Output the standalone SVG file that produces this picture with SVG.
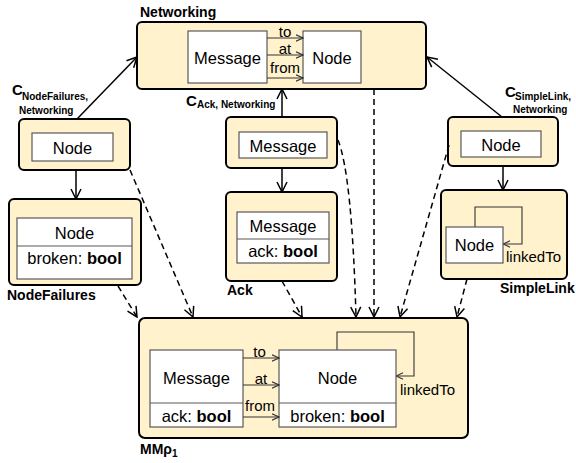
<svg xmlns="http://www.w3.org/2000/svg" width="576" height="463" viewBox="0 0 576 463">
  <style>
    text { font-family: "Liberation Sans", Arial, sans-serif; fill: #000; }
    .pkg { fill: #FFF2CC; stroke: #000; stroke-width: 2; }
    .cls { fill: #fff; stroke: #595959; stroke-width: 1.2; }
    .div { stroke: #595959; stroke-width: 1.2; }
    .name { font-size: 16.5px; text-anchor: middle; }
    .attr { font-size: 16.5px; }
    .role { font-size: 15px; }
    .title { font-size: 14px; font-weight: bold; }
    .cc { font-size: 15px; font-weight: bold; }
    .sub { font-size: 10px; font-weight: bold; }
    .ref { fill: none; stroke: #333; stroke-width: 1.1; }
    .map { fill: none; stroke: #000; stroke-width: 1.5; }
    .dash { fill: none; stroke: #000; stroke-width: 1.5; stroke-dasharray: 6 4; }
  </style>
  <defs>
    <marker id="open" viewBox="0 0 12 12" refX="11" refY="6" markerWidth="12" markerHeight="12" orient="auto" markerUnits="userSpaceOnUse">
      <path d="M1,1 L11,6 L1,11" fill="none" stroke="#000" stroke-width="1.5" stroke-dasharray="none"/>
    </marker>
    <marker id="small" viewBox="0 0 8 8" refX="7.5" refY="4" markerWidth="8" markerHeight="8" orient="auto" markerUnits="userSpaceOnUse">
      <path d="M0.5,0.8 L7.5,4 L0.5,7.2" fill="none" stroke="#333" stroke-width="1.1"/>
    </marker>
  </defs>

  <!-- Networking -->
  <g id="networking">
    <text class="title" x="140" y="17">Networking</text>
    <rect class="pkg" x="137" y="22" width="289" height="67" rx="5"/>
    <rect class="cls" x="188" y="31" width="79" height="52"/>
    <text class="name" x="227.5" y="64">Message</text>
    <rect class="cls" x="303" y="31" width="58" height="52"/>
    <text class="name" x="332" y="64">Node</text>
    <path class="ref" d="M267,38 H303" marker-end="url(#small)"/>
    <path class="ref" d="M267,55 H303" marker-end="url(#small)"/>
    <path class="ref" d="M267,78 H303" marker-end="url(#small)"/>
    <text class="role" x="285" y="37" text-anchor="middle">to</text>
    <text class="role" x="285" y="54" text-anchor="middle">at</text>
    <text class="role" x="285" y="73" text-anchor="middle">from</text>
  </g>

  <!-- correspondence NodeFailures / Networking -->
  <g id="c-nodefailures">
    <rect class="pkg" x="19" y="119" width="111" height="51" rx="5"/>
    <rect class="cls" x="32" y="133" width="81" height="28"/>
    <text class="name" x="72.5" y="154">Node</text>
    <text class="cc" x="12" y="95">C</text>
    <text class="sub" x="22" y="100">NodeFailures,</text>
    <text class="sub" x="19" y="114">Networking</text>
  </g>

  <!-- NodeFailures -->
  <g id="nodefailures">
    <rect class="pkg" x="9" y="199" width="132" height="86" rx="5"/>
    <rect class="cls" x="17" y="218" width="115" height="61"/>
    <line class="div" x1="17" y1="246" x2="132" y2="246"/>
    <text class="name" x="74.5" y="239">Node</text>
    <text class="attr" x="74.5" y="264" text-anchor="middle">broken: <tspan font-weight="bold">bool</tspan></text>
    <text class="title" x="7" y="300">NodeFailures</text>
  </g>

  <!-- correspondence Ack / Networking -->
  <g id="c-ack">
    <rect class="pkg" x="226" y="117" width="111" height="51" rx="5"/>
    <rect class="cls" x="239" y="132" width="88" height="26"/>
    <text class="name" x="283" y="152">Message</text>
    <text class="cc" x="186" y="106">C</text>
    <text class="sub" x="197" y="108">Ack, Networking</text>
  </g>

  <!-- Ack -->
  <g id="ack">
    <rect class="pkg" x="226" y="192" width="111" height="89" rx="5"/>
    <rect class="cls" x="237" y="212" width="92" height="51"/>
    <line class="div" x1="237" y1="239" x2="329" y2="239"/>
    <text class="name" x="283" y="232">Message</text>
    <text class="attr" x="283" y="257" text-anchor="middle">ack: <tspan font-weight="bold">bool</tspan></text>
    <text class="title" x="227" y="295">Ack</text>
  </g>

  <!-- correspondence SimpleLink / Networking -->
  <g id="c-simplelink">
    <rect class="pkg" x="448" y="117" width="110" height="49" rx="5"/>
    <rect class="cls" x="461" y="131" width="80" height="26"/>
    <text class="name" x="501" y="151">Node</text>
    <text class="cc" x="505" y="97">C</text>
    <text class="sub" x="515" y="100">SimpleLink,</text>
    <text class="sub" x="513" y="113">Networking</text>
  </g>

  <!-- SimpleLink -->
  <g id="simplelink">
    <rect class="pkg" x="441" y="190" width="126" height="89" rx="5"/>
    <path class="ref" d="M475,227 V207 H522 V244 H503" marker-end="url(#small)"/>
    <rect class="cls" x="446" y="227" width="57" height="36"/>
    <text class="name" x="474.5" y="251">Node</text>
    <text class="role" x="506" y="262">linkedTo</text>
    <text class="title" x="500" y="293">SimpleLink</text>
  </g>

  <!-- merged metamodel -->
  <g id="mm">
    <rect class="pkg" x="139" y="318" width="329" height="120" rx="6"/>
    <path class="ref" d="M337,350 V332 H414 V376 H396" marker-end="url(#small)"/>
    <rect class="cls" x="150" y="350" width="93" height="77"/>
    <line class="div" x1="150" y1="403" x2="243" y2="403"/>
    <text class="name" x="196.5" y="384">Message</text>
    <text class="attr" x="196.5" y="422" text-anchor="middle">ack: <tspan font-weight="bold">bool</tspan></text>
    <rect class="cls" x="279" y="350" width="117" height="77"/>
    <line class="div" x1="279" y1="403" x2="396" y2="403"/>
    <text class="name" x="337.5" y="384">Node</text>
    <text class="attr" x="337.5" y="422" text-anchor="middle">broken: <tspan font-weight="bold">bool</tspan></text>
    <path class="ref" d="M243,358 H279" marker-end="url(#small)"/>
    <path class="ref" d="M243,385 H279" marker-end="url(#small)"/>
    <path class="ref" d="M243,417 H279" marker-end="url(#small)"/>
    <text class="role" x="259.5" y="357" text-anchor="middle">to</text>
    <text class="role" x="261" y="384" text-anchor="middle">at</text>
    <text class="role" x="260" y="411" text-anchor="middle">from</text>
    <text class="role" x="400" y="395">linkedTo</text>
    <text class="title" x="140" y="454">MMρ<tspan font-size="10px" dy="3">1</tspan></text>
  </g>

  <!-- mappings between packages -->
  <g id="connectors">
    <path class="map" d="M77,119 L137,57" marker-end="url(#open)"/>
    <path class="map" d="M282,117 V89" marker-end="url(#open)"/>
    <path class="map" d="M502,117 L427,57" marker-end="url(#open)"/>
    <path class="map" d="M76,170 V199" marker-end="url(#open)"/>
    <path class="map" d="M282,168 V192" marker-end="url(#open)"/>
    <path class="map" d="M503,166 V190" marker-end="url(#open)"/>

    <path class="dash" d="M130,170 L193,317" marker-end="url(#open)"/>
    <path class="dash" d="M118,286 L137,317" marker-end="url(#open)"/>
    <path class="dash" d="M282,281 L302,317" marker-end="url(#open)"/>
    <path class="dash" d="M338,140 Q352,175 356,317" marker-end="url(#open)"/>
    <path class="dash" d="M374,89 V317" marker-end="url(#open)"/>
    <path class="dash" d="M449,145 L400,317" marker-end="url(#open)"/>
    <path class="dash" d="M467,279 L457,317" marker-end="url(#open)"/>
  </g>
</svg>
